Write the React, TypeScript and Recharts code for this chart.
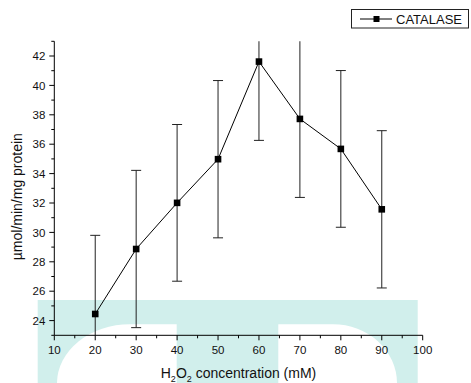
import React from "react";
import { LineChart, Line, XAxis, YAxis, ErrorBar, Legend } from "recharts";

const concentrations = [20, 30, 40, 50, 60, 70, 80, 90];
const catalase = [24.45, 28.87, 32.01, 34.98, 41.62, 37.72, 35.68, 31.57];
const catalaseErr = [5.35, 5.35, 5.33, 5.35, 5.36, 5.34, 5.33, 5.35];
const xTicks = [10, 15, 20, 25, 30, 35, 40, 45, 50, 55, 60, 65, 70, 75, 80, 85, 90, 95, 100];
const yTicks = [23, 24, 25, 26, 27, 28, 29, 30, 31, 32, 33, 34, 35, 36, 37, 38, 39, 40, 41, 42, 43];
const seriesName = "CATALASE";

const data = concentrations.map((c, i) => ({
  x: c,
  y: catalase[i],
  err: catalaseErr[i],
}));

const FONT = "'Liberation Sans', Arial, sans-serif";

const YTick = (props: any) => {
  const { x, y, payload } = props;
  const v = payload.value;
  const major = v % 2 === 0;
  return (
    <g>
      <line x1={x} x2={x - (major ? 5 : 3)} y1={y} y2={y} stroke="#000" strokeWidth={1} />
      {major && (
        <text x={x - 9} y={y} dy="0.36em" textAnchor="end" fontSize={11.5} fontFamily={FONT} fill="#111">
          {v}
        </text>
      )}
    </g>
  );
};

const XTick = (props: any) => {
  const { x, y, payload } = props;
  const v = payload.value;
  const major = v % 10 === 0;
  return (
    <g>
      <line x1={x} x2={x} y1={y} y2={y + (major ? 5 : 3)} stroke="#000" strokeWidth={1} />
      {major && (
        <text x={x} y={y + 18.7} textAnchor="middle" fontSize={11.5} fontFamily={FONT} fill="#111">
          {v}
        </text>
      )}
    </g>
  );
};

const XLabel = (props: any) => {
  const vb = props.viewBox || {};
  const cx = vb.x + vb.width / 2;
  const by = vb.y + 42.5;
  return (
    <text x={cx} y={by} textAnchor="middle" fontSize={14} fontFamily={FONT} fill="#111">
      <tspan>H</tspan>
      <tspan fontSize={9} dy={4}>2</tspan>
      <tspan dy={-4}>O</tspan>
      <tspan fontSize={9} dy={4}>2</tspan>
      <tspan dy={-4}> concentration (mM)</tspan>
    </text>
  );
};

const YLabel = (props: any) => {
  const vb = props.viewBox || {};
  const x = vb.x + 22;
  const y = 196.7;
  return (
    <text
      x={x}
      y={y}
      textAnchor="middle"
      fontSize={14}
      fontFamily={FONT}
      fill="#111"
      transform={`rotate(-90, ${x}, ${y})`}
    >
      µmol/min/mg protein
    </text>
  );
};

const LegendContent = () => (
  <svg width={119} height={20} style={{ display: "block" }}>
    <rect x={0.5} y={0.5} width={117} height={18.5} fill="#fff" stroke="#222" strokeWidth={1} />
    <line x1={9} x2={41} y1={10} y2={10} stroke="#000" strokeWidth={1} />
    <rect x={22.5} y={7} width={6} height={6} fill="#000" />
    <text x={45} y={15} fontSize={13} fontFamily={FONT} fill="#111">
      {seriesName}
    </text>
  </svg>
);

const SquareDot = (props: any) => {
  const { cx, cy, index } = props;
  if (cx == null || cy == null) return <g key={`d${index}`} />;
  return <rect key={`d${index}`} x={cx - 3.3} y={cy - 3.3} width={6.6} height={6.6} fill="#000" />;
};

export default function App() {
  return (
    <div style={{ position: "absolute", left: 0, top: 0, width: 471, height: 383, background: "#fff", overflow: "hidden" }}>
      <style>{`.recharts-errorBars, .recharts-errorBar { clip-path: url(#clipPath-cat); }`}</style>
      <svg width={471} height={383} style={{ position: "absolute", left: 0, top: 0 }}>
        <rect x={37.7} y={300} width={380} height={90} fill="#d1efec" />
        <path d="M57,383 A73,59 0 0 1 130,324.3 L176.7,324.3 L176.7,383 Z" fill="#fff" />
        <path d="M278.3,383 L278.3,324.3 L333,324.3 A64,59 0 0 1 397,383 Z" fill="#fff" />
      </svg>
      <div style={{ position: "absolute", left: 0, top: 0 }}>
        <LineChart width={471} height={383} data={data} margin={{ top: 41.3, right: 48.3, bottom: 0, left: 0 }}>
          <XAxis
            type="number"
            dataKey="x"
            domain={[10, 100]}
            ticks={xTicks}
            interval={0}
            height={47.7}
            tickSize={0}
            tickMargin={0}
            tickLine={false}
            tick={<XTick />}
            axisLine={{ stroke: "#000", strokeWidth: 1 }}
            label={<XLabel />}
            allowDataOverflow
          />
          <YAxis
            type="number"
            domain={[23, 43]}
            ticks={yTicks}
            interval={0}
            width={54.3}
            tickSize={0}
            tickMargin={0}
            tickLine={false}
            tick={<YTick />}
            axisLine={{ stroke: "#000", strokeWidth: 1 }}
            label={<YLabel />}
            allowDataOverflow
          />
          <Legend
            layout="vertical"
            align="center"
            verticalAlign="middle"
            content={<LegendContent />}
            wrapperStyle={{ position: "absolute", left: 350.5, top: 8.7, width: 119, height: 20 }}
          />
          <Line
            id="cat"
            type="linear"
            dataKey="y"
            name={seriesName}
            stroke="#000"
            strokeWidth={1}
            dot={SquareDot}
            activeDot={false}
            isAnimationActive={false}
          >
            <ErrorBar dataKey="err" width={5} stroke="#222" strokeWidth={1} direction="y" isAnimationActive={false} />
          </Line>
        </LineChart>
      </div>
    </div>
  );
}
